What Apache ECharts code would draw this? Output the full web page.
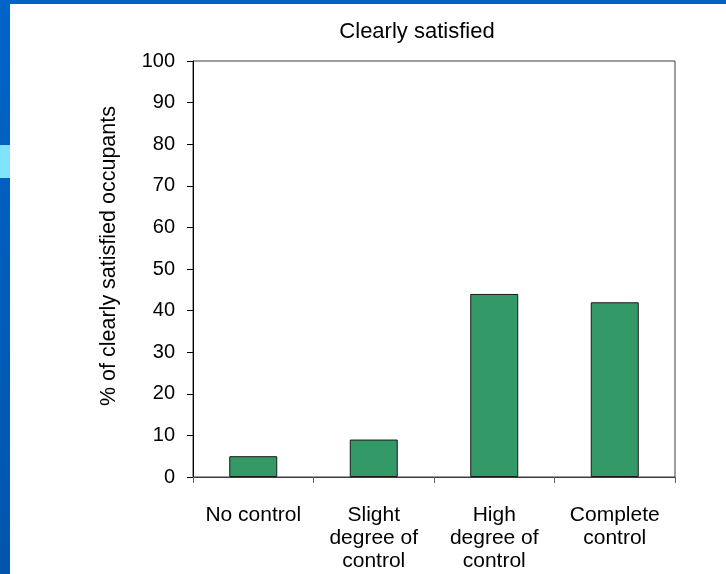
<!DOCTYPE html>
<html>
<head>
<meta charset="utf-8">
<script src="https://cdn.jsdelivr.net/npm/echarts@6/dist/echarts.min.js"></script>
<style>
  html, body { margin: 0; padding: 0; background: #ffffff; }
  #chart { width: 726px; height: 574px; }
</style>
</head>
<body>
<div id="chart"></div>
<script>
// Share of clearly satisfied occupants by degree of control
var categories = ['No control', 'Slight\ndegree of\ncontrol', 'High\ndegree of\ncontrol', 'Complete\ncontrol'];
var satisfiedPct = [5, 9, 44, 42];
var yTicks = { min: 0, max: 100, interval: 10 };

var chart = echarts.init(document.getElementById('chart'), null, { renderer: 'canvas' });
var font = 'Liberation Sans, Arial, sans-serif';

chart.setOption({
  backgroundColor: '#ffffff',
  animation: false,
  title: {
    text: 'Clearly satisfied',
    left: 412,
    top: 16,
    textAlign: 'center',
    textStyle: { fontFamily: font, fontSize: 22, fontWeight: 'normal', color: '#000000' }
  },
  graphic: [
    { type: 'rect', left: 0, top: 0, shape: { width: 726, height: 4 }, style: { fill: '#0062C4' }, silent: true },
    { type: 'rect', left: 0, top: 0, shape: { width: 10, height: 574 },
      style: { fill: new echarts.graphic.LinearGradient(0, 0, 0, 1, [
        { offset: 0, color: '#0064C8' }, { offset: 1, color: '#0056AC' }
      ]) }, silent: true },
    { type: 'rect', left: 0, top: 145, shape: { width: 10, height: 33 }, style: { fill: '#80E4FF' }, silent: true }
  ],
  grid: {
    left: 193, top: 61, width: 482, height: 416,
    show: true, borderColor: '#3c3c3c', borderWidth: 1, backgroundColor: 'transparent'
  },
  xAxis: {
    type: 'category',
    data: categories,
    axisLine: { lineStyle: { color: '#3c3c3c', width: 1 } },
    axisTick: { show: true, length: 6, alignWithLabel: false, lineStyle: { color: '#606060' } },
    axisLabel: { fontFamily: font, fontSize: 21, color: '#000000', lineHeight: 23, margin: 27, interval: 0 }
  },
  yAxis: {
    type: 'value',
    min: yTicks.min, max: yTicks.max, interval: yTicks.interval,
    name: '% of clearly satisfied occupants',
    nameLocation: 'middle',
    nameGap: 73,
    nameTextStyle: { fontFamily: font, fontSize: 21.5, color: '#000000', padding: [0, 0, 0, 26] },
    axisLine: { show: true, lineStyle: { color: '#000000', width: 1 } },
    axisTick: { show: true, length: 6, lineStyle: { color: '#000000' } },
    axisLabel: { fontFamily: font, fontSize: 20, color: '#000000', margin: 18 },
    splitLine: { show: false }
  },
  series: [{
    type: 'bar',
    data: satisfiedPct,
    barWidth: 48,
    itemStyle: { color: '#339966', borderColor: '#1a1a1a', borderWidth: 1 }
  }]
});
</script>
</body>
</html>
